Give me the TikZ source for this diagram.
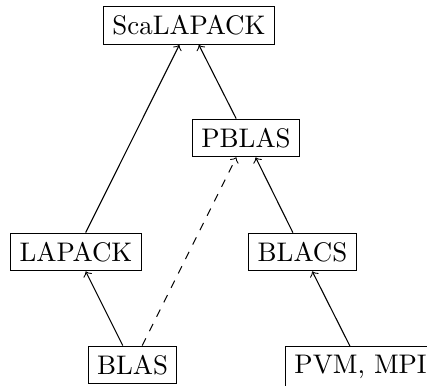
\documentclass[tikz,border=0pt]{standalone}
\begin{document}
\begin{tikzpicture}[x=0.372pt,y=-0.372pt,
  box/.style={draw,rectangle,inner sep=3.333pt},
  link/.style={->}]
\useasboundingbox (0,0) rectangle (427,386);
\node[box] (sca) at (189,25.5) {ScaLAPACK};
\node[box] (pblas) at (246,138) {PBLAS};
\node[box] (lapack) at (76,252) {LAPACK};
\node[box] (blacs) at (302.5,252) {BLACS};
\node[box] (blas) at (132.5,365) {BLAS};
\node[box,anchor=north west] (pvm) at (285,346) {PVM, MPI};
\draw[link] (lapack) -- (sca);
\draw[link] (pblas) -- (sca);
\draw[link] (blas) -- (lapack);
\draw[link,dashed] (blas) -- (pblas);
\draw[link] (blacs) -- (pblas);
\draw[link] (pvm) -- (blacs);
\end{tikzpicture}
\end{document}
